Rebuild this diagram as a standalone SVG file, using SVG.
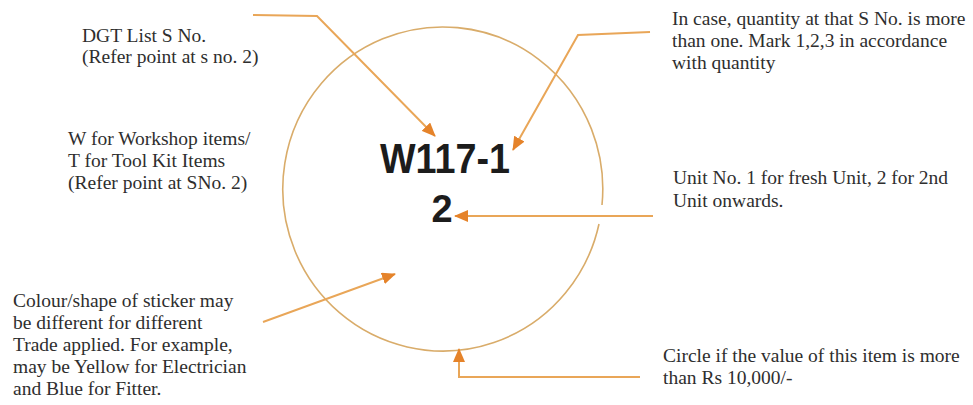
<svg xmlns="http://www.w3.org/2000/svg" width="973" height="405" viewBox="0 0 973 405">
<defs>
<style>
.lbl{font-family:"Liberation Serif","Times New Roman",serif;font-size:19.5px;fill:#2e2e2e}
.code{font-family:"Liberation Sans",Arial,sans-serif;font-weight:bold;fill:#1c1c1c}
.conn{fill:none;stroke:#E9A658;stroke-width:2;marker-end:url(#ah)}
</style>
<marker id="ah" markerUnits="userSpaceOnUse" markerWidth="14" markerHeight="12" viewBox="0 0 14 12" refX="13" refY="6" orient="auto">
<path d="M0,0 L14,6 L0,12 Z" fill="#E5832A"/>
</marker>
</defs>
<rect width="973" height="405" fill="#ffffff"/>
<g id="sticker">
<path d="M599,224 A160 162 0 1 1 602,205" fill="none" stroke="#D9AC6A" stroke-width="1.6"/>
<text class="code" x="445" y="173" font-size="42" text-anchor="middle" textLength="130" lengthAdjust="spacingAndGlyphs">W117-1</text>
<text class="code" x="442" y="222" font-size="38" text-anchor="middle">2</text>
</g>
<g id="connectors">
<polyline class="conn" points="253,15 317,16 435,136"/>
<polyline class="conn" points="650,32 578,35 513,150"/>
<polyline class="conn" points="653,216 455,216"/>
<polyline class="conn" points="263,322 395,274"/>
<polyline class="conn" points="640,377 459,377 459,349"/>
</g>
<g id="dgt">
<text class="lbl" x="82" y="42">DGT List S No.</text>
<text class="lbl" x="82" y="63">(Refer point at s no. 2)</text>
</g>
<g id="wt">
<text class="lbl" x="68" y="145">W for Workshop items/</text>
<text class="lbl" x="68" y="167">T for Tool Kit Items</text>
<text class="lbl" x="68" y="189">(Refer point at SNo. 2)</text>
</g>
<g id="colour">
<text class="lbl" x="13" y="307">Colour/shape of sticker may</text>
<text class="lbl" x="13" y="329">be different for different</text>
<text class="lbl" x="13" y="351">Trade applied. For example,</text>
<text class="lbl" x="13" y="373">may be Yellow for Electrician</text>
<text class="lbl" x="13" y="395">and Blue for Fitter.</text>
</g>
<g id="quantity">
<text class="lbl" x="672" y="25">In case, quantity at that S No. is more</text>
<text class="lbl" x="672" y="47">than one. Mark 1,2,3 in accordance</text>
<text class="lbl" x="672" y="69">with quantity</text>
</g>
<g id="unit">
<text class="lbl" x="673" y="184">Unit No. 1 for fresh Unit, 2 for 2nd</text>
<text class="lbl" x="673" y="207">Unit onwards.</text>
</g>
<g id="value">
<text class="lbl" x="663" y="362">Circle if the value of this item is more</text>
<text class="lbl" x="663" y="384">than Rs 10,000/-</text>
</g>
</svg>
